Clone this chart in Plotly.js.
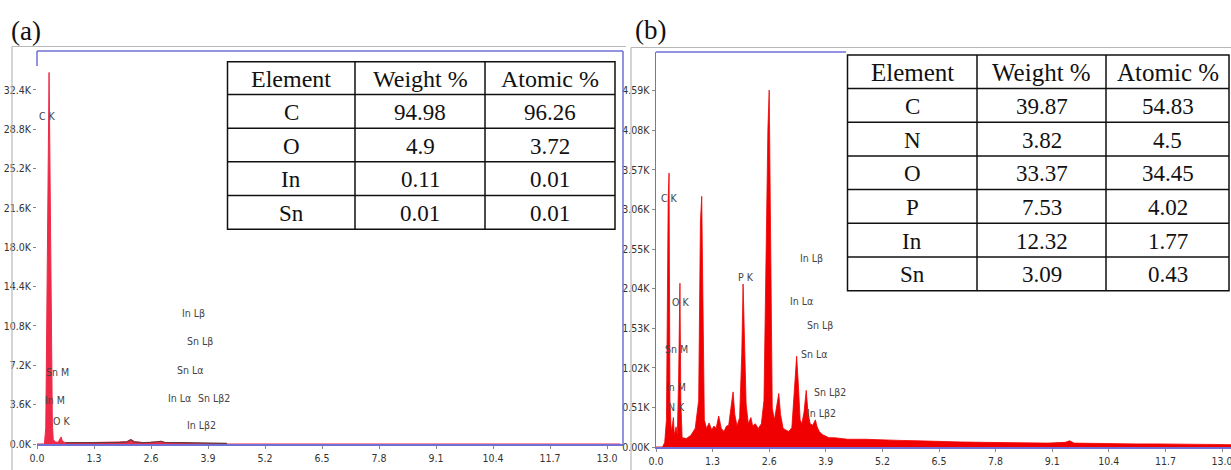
<!DOCTYPE html>
<html>
<head>
<meta charset="utf-8">
<script src="https://cdn.plot.ly/plotly-3.0.1.min.js"></script>
<style>html,body{margin:0;padding:0;background:#fff;}#chart{width:1231px;height:470px;}</style>
</head>
<body>
<div id="chart"></div>
<script>
// ---------- DATA ----------
// Panel (a) EDX spectrum: energy (keV) and counts (K)
const energyA = [0, 0.17, 0.20, 0.215, 0.24, 0.26, 0.275, 0.29, 0.31, 0.335, 0.35, 0.37, 0.42, 0.48, 0.52, 0.55, 0.58, 0.65, 0.8, 1.0, 1.3, 1.6, 1.9, 2.05, 2.14, 2.22, 2.4, 2.6, 2.75, 2.83, 2.9, 3.2, 3.6, 4.0, 4.33, 4.35, 13.3];
const countsA = [0, 0, 1.5, 7.5, 16, 29, 34, 28, 16, 7.5, 2, 0.4, 0.2, 0.15, 0.4, 0.65, 0.25, 0.12, 0.1, 0.12, 0.13, 0.12, 0.15, 0.2, 0.4, 0.2, 0.13, 0.15, 0.18, 0.25, 0.15, 0.12, 0.1, 0.08, 0.05, 0, 0];

// Panel (b) EDX spectrum: energy (keV) and counts (K)
const energyB = [0, 0.15, 0.20, 0.24, 0.28, 0.30, 0.32, 0.35, 0.38, 0.40, 0.42, 0.46, 0.49, 0.52, 0.55, 0.57, 0.60, 0.70, 0.80, 0.90, 0.98, 1.02, 1.05, 1.08, 1.11, 1.16, 1.22, 1.28, 1.33, 1.38, 1.44, 1.50, 1.56, 1.62, 1.67, 1.72, 1.77, 1.81, 1.86, 1.92, 1.97, 2.00, 2.03, 2.07, 2.12, 2.18, 2.22, 2.28, 2.35, 2.42, 2.48, 2.53, 2.57, 2.60, 2.63, 2.67, 2.72, 2.77, 2.82, 2.86, 2.92, 2.98, 3.05, 3.12, 3.18, 3.23, 3.27, 3.31, 3.35, 3.40, 3.45, 3.49, 3.54, 3.60, 3.66, 3.70, 3.75, 3.82, 3.90, 3.97, 4.10, 4.40, 4.80, 5.20, 5.60, 6.00, 6.50, 7.00, 7.50, 8.00, 8.50, 9.00, 9.40, 9.50, 9.60, 10.0, 10.5, 11.0, 11.5, 12.0, 12.5, 13.0, 13.3];
const countsB = [0, 0, 0.06, 0.35, 3.2, 3.53, 0.6, 0.2, 0.3, 0.38, 0.15, 0.26, 0.15, 0.9, 2.11, 0.6, 0.12, 0.11, 0.15, 0.24, 0.6, 2.9, 3.23, 1.3, 0.35, 0.24, 0.31, 0.22, 0.27, 0.24, 0.4, 0.24, 0.2, 0.27, 0.28, 0.5, 0.71, 0.42, 0.27, 0.38, 1.2, 2.1, 1.5, 0.55, 0.3, 0.38, 0.27, 0.3, 0.24, 0.3, 0.6, 2.8, 4.1, 4.6, 2.4, 0.5, 0.35, 0.55, 0.69, 0.42, 0.24, 0.22, 0.2, 0.25, 0.75, 1.17, 0.8, 0.35, 0.3, 0.45, 0.73, 0.45, 0.3, 0.28, 0.35, 0.26, 0.2, 0.16, 0.14, 0.12, 0.12, 0.1, 0.1, 0.09, 0.085, 0.08, 0.07, 0.065, 0.06, 0.055, 0.05, 0.05, 0.06, 0.08, 0.05, 0.045, 0.045, 0.04, 0.04, 0.035, 0.035, 0.03, 0.03];

// Peak labels
const peakLabelsA = ["C K", "Sn M", "In M", "O K", "In Lβ", "Sn Lβ", "Sn Lα", "In Lα", "Sn Lβ2", "In Lβ2"];
const peakLabelsB = ["C K", "O K", "Sn M", "In M", "N K", "P K", "In Lβ", "In Lα", "Sn Lβ", "Sn Lα", "Sn Lβ2", "In Lβ2"];

// Composition tables
const tableHeader = ["Element", "Weight %", "Atomic %"];
const elementsA = ["C", "O", "In", "Sn"];
const weightA = ["94.98", "4.9", "0.11", "0.01"];
const atomicA = ["96.26", "3.72", "0.01", "0.01"];
const elementsB = ["C", "N", "O", "P", "In", "Sn"];
const weightB = ["39.87", "3.82", "33.37", "7.53", "12.32", "3.09"];
const atomicB = ["54.83", "4.5", "34.45", "4.02", "1.77", "0.43"];

// Axis ticks
const xTicks = [0, 1.3, 2.6, 3.9, 5.2, 6.5, 7.8, 9.1, 10.4, 11.7, 13.0];
const yTicksA = [0, 3.6, 7.2, 10.8, 14.4, 18.0, 21.6, 25.2, 28.8, 32.4];
const yTicksB = [0, 0.51, 1.02, 1.53, 2.04, 2.55, 3.06, 3.57, 4.08, 4.59];

// ---------- LAYOUT HELPERS ----------
const W = 1231, H = 470;
const px = v => v / W;
const py = v => 1 - v / H;
const BLUE = '#6f6fd6';
const GREY = '#b8b8b8';
const narrow = 'DejaVu Sans Condensed, Liberation Sans Narrow, Liberation Sans, sans-serif';
const tickFont = {family: narrow, size: 10.5, color: '#333'};
const labelFont = {family: narrow, size: 10.5, color: '#444'};
const serif = 'Liberation Serif, Times New Roman, serif';

// tail of spectrum (a) drawn as darker outline
const tailIdx = energyA.map((e, i) => i).filter(i => energyA[i] >= 0.6 && energyA[i] <= 4.34);

const traces = [
  {x: energyA, y: countsA, type: 'scatter', mode: 'lines', fill: 'tozeroy',
   fillcolor: '#ee2a48', line: {color: '#ee2a48', width: 1}, xaxis: 'x', yaxis: 'y', hoverinfo: 'skip'},
  {x: tailIdx.map(i => energyA[i]), y: tailIdx.map(i => countsA[i]), type: 'scatter', mode: 'lines',
   line: {color: '#6a3a3e', width: 1.2}, xaxis: 'x', yaxis: 'y', hoverinfo: 'skip'},
  {x: energyB, y: countsB, type: 'scatter', mode: 'lines', fill: 'tozeroy',
   fillcolor: '#f00000', line: {color: '#f00000', width: 0.8}, xaxis: 'x2', yaxis: 'y2', hoverinfo: 'skip'}
];

// label positions (data coordinates) for peak annotations
const posA = [[0.24, 30.0], [0.46, 6.6], [0.41, 4.0], [0.57, 2.1], [3.56, 12.0], [3.72, 9.4], [3.49, 6.8], [3.26, 4.2], [4.03, 4.2], [3.76, 1.7]];
const posB = [[0.32, 3.21], [0.56, 1.87], [0.48, 1.26], [0.45, 0.77], [0.46, 0.52], [2.07, 2.19], [3.56, 2.43], [3.34, 1.88], [3.76, 1.57], [3.63, 1.20], [4.0, 0.71], [3.81, 0.44]];

const annotations = [];
peakLabelsA.forEach((t, i) => annotations.push({text: t, x: posA[i][0], y: posA[i][1], xref: 'x', yref: 'y', showarrow: false, font: labelFont, xanchor: 'center', yanchor: 'middle'}));
peakLabelsB.forEach((t, i) => annotations.push({text: t, x: posB[i][0], y: posB[i][1], xref: 'x2', yref: 'y2', showarrow: false, font: labelFont, xanchor: 'center', yanchor: 'middle'}));

// panel letters
annotations.push({text: '(a)', x: px(26), y: py(31), xref: 'paper', yref: 'paper', showarrow: false, font: {family: serif, size: 27, color: '#111'}, xanchor: 'center', yanchor: 'middle'});
annotations.push({text: '(b)', x: px(650), y: py(30), xref: 'paper', yref: 'paper', showarrow: false, font: {family: serif, size: 27, color: '#111'}, xanchor: 'center', yanchor: 'middle'});

const shapes = [];
function line(x0, y0, x1, y1, color, width) {
  shapes.push({type: 'line', xref: 'paper', yref: 'paper', x0: px(x0), y0: py(y0), x1: px(x1), y1: py(y1), line: {color: color, width: width}});
}
// outer grey frames
line(12, 46.5, 626, 46.5, GREY, 1.2);
line(12, 46.5, 12, 470, GREY, 1.2);
line(631, 47.5, 1231, 47.5, GREY, 1.2);
line(631, 47.5, 631, 470, GREY, 1.2);
// blue plot borders
line(37, 51, 623, 51, BLUE, 1.5);
line(623, 51, 623, 444, BLUE, 1.5);
line(37, 51, 37, 66, BLUE, 1.5);
line(656, 52, 846, 52, BLUE, 1.5);

// tables
function buildTable(cols, rows, header, c1, c2, c3, hSize, cSize) {
  const x0 = cols[0], x3 = cols[3];
  shapes.push({type: 'rect', xref: 'paper', yref: 'paper', x0: px(x0), x1: px(x3), y0: py(rows[0]), y1: py(rows[rows.length - 1]), fillcolor: '#fff', line: {color: '#111', width: 1.5}});
  for (let i = 1; i < rows.length - 1; i++) line(x0, rows[i], x3, rows[i], '#111', 1.5);
  line(cols[1], rows[0], cols[1], rows[rows.length - 1], '#111', 1.5);
  line(cols[2], rows[0], cols[2], rows[rows.length - 1], '#111', 1.5);
  const colsData = [c1, c2, c3];
  for (let c = 0; c < 3; c++) {
    const cx = (cols[c] + cols[c + 1]) / 2;
    annotations.push({text: header[c], x: px(cx), y: py((rows[0] + rows[1]) / 2 + 1), xref: 'paper', yref: 'paper', showarrow: false, font: {family: serif, size: hSize, color: '#111'}, xanchor: 'center', yanchor: 'middle'});
    colsData[c].forEach((v, r) => {
      annotations.push({text: v, x: px(cx), y: py((rows[r + 1] + rows[r + 2]) / 2 + 1), xref: 'paper', yref: 'paper', showarrow: false, font: {family: serif, size: cSize, color: '#111'}, xanchor: 'center', yanchor: 'middle'});
    });
  }
}
buildTable([227.5, 355, 485, 615], [61.7, 94.5, 128.2, 161.8, 195.5, 229.3], tableHeader, elementsA, weightA, atomicA, 24, 23);
buildTable([847.5, 977, 1106, 1229], [55, 88.5, 122.2, 155.9, 189.6, 223.3, 257, 290.7], tableHeader, elementsB, weightB, atomicB, 25, 23);

const axisCommon = {showgrid: false, zeroline: false, ticks: 'outside', ticklen: 3, tickcolor: '#888', tickfont: tickFont, fixedrange: true, ticklabeloverflow: 'allow'};
const xText = xTicks.map(v => v.toFixed(1));
const yTextA = yTicksA.map(v => v.toFixed(1) + 'K');
const yTextB = yTicksB.map(v => v.toFixed(2) + 'K');

const layout = {
  width: W, height: H,
  margin: {l: 0, r: 0, t: 0, b: 0},
  paper_bgcolor: '#fff', plot_bgcolor: 'rgba(0,0,0,0)',
  showlegend: false,
  xaxis: Object.assign({}, axisCommon, {domain: [px(37), px(623)], range: [0, 13.364], tickmode: 'array', tickvals: xTicks, ticktext: xText, showline: true, linecolor: BLUE, linewidth: 1.5, anchor: 'y', ticklabelstandoff: 1}),
  yaxis: Object.assign({}, axisCommon, {domain: [py(444), py(51)], range: [0, 35.96], tickmode: 'array', tickvals: yTicksA, ticktext: yTextA, showline: false, anchor: 'x', ticklabelstandoff: 0}),
  xaxis2: Object.assign({}, axisCommon, {domain: [px(656), 1], range: [0, 13.206], tickmode: 'array', tickvals: xTicks, ticktext: xText, showline: true, linecolor: BLUE, linewidth: 1.5, anchor: 'y2', ticklabelstandoff: 1}),
  yaxis2: Object.assign({}, axisCommon, {domain: [py(447), py(52)], range: [0, 5.09], tickmode: 'array', tickvals: yTicksB, ticktext: yTextB, showline: true, linecolor: BLUE, linewidth: 1.5, anchor: 'x2', ticklabelstandoff: 0}),
  shapes: shapes,
  annotations: annotations
};

Plotly.newPlot('chart', traces, layout, {displayModeBar: false, staticPlot: true});
</script>
</body>
</html>
